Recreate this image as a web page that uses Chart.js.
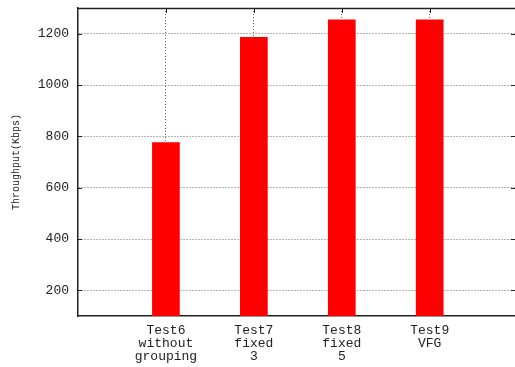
<!DOCTYPE html>
<html>
<head>
<meta charset="utf-8">
<script src="https://cdn.jsdelivr.net/npm/chart.js@4/dist/chart.umd.min.js"></script>
<style>
  html, body { margin: 0; padding: 0; background: #fff; }
  canvas { display: block; }
</style>
</head>
<body>
<canvas id="tputChart" width="515" height="367"></canvas>
<script>
// categories (multi-line tick labels) and their x positions
const categories = [
    ['Test6', 'without', 'grouping'],
    ['Test7', 'fixed', '3'],
    ['Test8', 'fixed', '5'],
    ['Test9', 'VFG']
];
const xPositions = [1, 2, 3, 4];
const throughput = [777, 1187, 1255, 1255];   // Kbps
const yTicks = [200, 400, 600, 800, 1000, 1200];

const MONO = '"Liberation Mono", "DejaVu Sans Mono", monospace';

// top border + inward tick marks, like gnuplot's mirrored tics
const frameTicks = {
    id: 'frameTicks',
    afterDatasetsDraw(chart) {
        const { ctx, chartArea: a, scales: { x, y } } = chart;
        ctx.save();
        ctx.strokeStyle = '#222';
        ctx.lineWidth = 1.5;
        ctx.beginPath();
        ctx.moveTo(a.left, a.top + 0.5);
        ctx.lineTo(a.right, a.top + 0.5);
        ctx.stroke();
        ctx.lineWidth = 1;
        ctx.beginPath();
        yTicks.forEach(v => {
            const py = Math.round(y.getPixelForValue(v)) + 0.5;
            ctx.moveTo(a.left, py); ctx.lineTo(a.left + 4, py);
            ctx.moveTo(a.right - 4, py); ctx.lineTo(a.right, py);
        });
        xPositions.forEach(v => {
            const px = Math.round(x.getPixelForValue(v)) + 0.5;
            ctx.moveTo(px, a.top); ctx.lineTo(px, a.top + 5);
        });
        ctx.stroke();
        ctx.restore();
    }
};

const ctx = document.getElementById('tputChart').getContext('2d');

const chart = new Chart(ctx, {
    type: 'bar',
    data: {
        datasets: [{
            data: throughput.map((v, i) => ({ x: xPositions[i], y: v })),
            backgroundColor: '#ff0000',
            borderWidth: 0,
            barPercentage: 0.315,
            categoryPercentage: 1
        }]
    },
    options: {
        responsive: false,
        devicePixelRatio: 1,
        animation: false,
        layout: { padding: 0 },
        plugins: {
            legend: { display: false },
            tooltip: { enabled: false }
        },
        scales: {
            x: {
                type: 'linear',
                min: 0,
                max: 4.97,
                offset: false,
                afterBuildTicks: axis => { axis.ticks = xPositions.map(v => ({ value: v })); },
                afterFit: axis => { axis.height = 51; axis.paddingLeft = 0; axis.paddingRight = 0; },
                grid: { color: '#666', drawTicks: false, offset: false },
                border: { color: '#222', width: 1.5, dash: [1, 2] },
                ticks: {
                    autoSkip: false,
                    maxRotation: 0,
                    padding: 8,
                    color: '#222',
                    font: { family: MONO, size: 13, lineHeight: 1.0 },
                    callback: (value, index) => categories[index]
                }
            },
            y: {
                min: 100,
                max: 1300,
                afterBuildTicks: axis => { axis.ticks = yTicks.map(v => ({ value: v })); },
                afterFit: axis => { axis.width = 78; axis.paddingTop = 8; axis.paddingBottom = 0; },
                grid: { color: '#666', drawTicks: false },
                border: { color: '#222', width: 1.5, dash: [1, 2] },
                ticks: {
                    padding: 9,
                    color: '#222',
                    font: { family: MONO, size: 13 },
                    callback: value => String(value)
                },
                title: {
                    display: true,
                    text: 'Throughput(Kbps)',
                    color: '#222',
                    padding: { top: 10, bottom: 0 },
                    font: { family: MONO, size: 10 }
                }
            }
        }
    },
    plugins: [frameTicks]
});
</script>
</body>
</html>
